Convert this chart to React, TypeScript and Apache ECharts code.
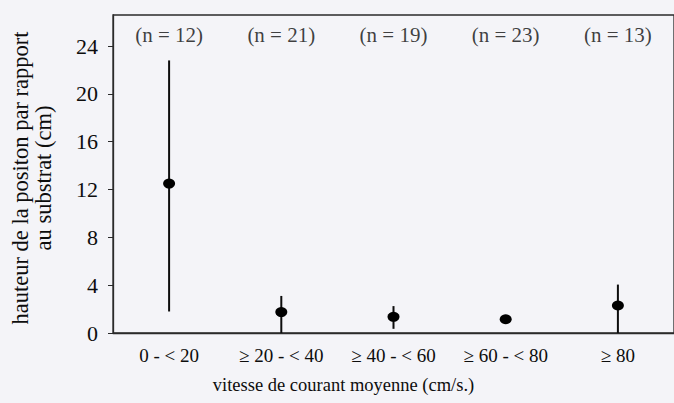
import React, { useEffect, useRef } from "react";
import * as echarts from "echarts";

const categories = ["0 - < 20", "≥ 20 - < 40", "≥ 40 - < 60", "≥ 60 - < 80", "≥ 80"];
const meanValues = [12.5, 1.75, 1.35, 1.15, 2.3];
const lowValues = [1.8, 0, 0.35, 1.15, 0];
const highValues = [22.8, 3.1, 2.25, 1.15, 4.05];
const sampleSizes = [12, 21, 19, 23, 13];
const yTicks = [0, 4, 8, 12, 16, 20, 24];
const nLabelLevel = 24.9;

const FONT = "Liberation Serif";
const INK = "#0d0d0d";

export default function App() {
  const ref = useRef<HTMLDivElement>(null);
  useEffect(() => {
    if (!ref.current) return;
    const chart = echarts.init(ref.current, null, { renderer: "svg" });
    chart.setOption({
      animation: false,
      backgroundColor: "#f4f4f8",
      textStyle: { fontFamily: FONT },
      grid: {
        left: 113,
        top: 15,
        bottom: 70,
        right: -15,
        show: true,
        borderColor: "#2a2a2a",
        borderWidth: 1.3,
      },
      xAxis: {
        type: "category",
        data: categories,
        boundaryGap: true,
        axisLine: { lineStyle: { color: "#2a2a2a", width: 1.3 } },
        axisTick: { alignWithLabel: true, length: 5, lineStyle: { color: "#2a2a2a" } },
        axisLabel: { color: INK, fontFamily: FONT, fontSize: 19, margin: 13 },
        name: "vitesse de courant moyenne (cm/s.)",
        nameLocation: "middle",
        nameGap: 42,
        nameTextStyle: { color: INK, fontFamily: FONT, fontSize: 18.5, padding: [0, 100, 0, 0] },
        splitLine: { show: false },
      },
      yAxis: {
        type: "value",
        min: 0,
        max: 26.6,
        axisLine: { show: true, lineStyle: { color: "#2a2a2a", width: 1.3 } },
        axisTick: { show: true, length: 5, customValues: yTicks, lineStyle: { color: "#2a2a2a" } },
        axisLabel: { color: INK, fontFamily: FONT, fontSize: 22, margin: 15, customValues: yTicks },
        splitLine: { show: false },
        name: "hauteur de la positon par rapport\nau substrat (cm)",
        nameLocation: "middle",
        nameGap: 58,
        nameRotate: 90,
        nameTextStyle: { color: INK, fontFamily: FONT, fontSize: 22.5, lineHeight: 23, padding: [0, 8, 0, 0] },
      },
      series: [
        {
          type: "custom",
          data: categories.map((_, i) => [i, lowValues[i], highValues[i]]),
          renderItem: (params: any, api: any) => {
            const lo = api.coord([api.value(0), api.value(1)]);
            const hi = api.coord([api.value(0), api.value(2)]);
            return {
              type: "line",
              shape: { x1: lo[0], y1: lo[1], x2: hi[0], y2: hi[1] },
              style: { stroke: INK, lineWidth: 2 },
            };
          },
          z: 2,
        },
        {
          type: "scatter",
          data: categories.map((_, i) => [i, meanValues[i]]),
          symbol: "circle",
          symbolSize: [12, 10],
          itemStyle: { color: "#000", opacity: 1 },
          z: 3,
        },
        {
          type: "scatter",
          data: categories.map((_, i) => [i, nLabelLevel]),
          symbolSize: 0,
          label: {
            show: true,
            position: "inside",
            formatter: (p: any) => `(n = ${sampleSizes[p.dataIndex]})`,
            color: INK,
            fontFamily: FONT,
            fontSize: 21,
          },
          z: 4,
        },
      ],
    });
    return () => chart.dispose();
  }, []);
  return (
    <div
      ref={ref}
      style={{ position: "fixed", left: 0, top: 0, width: 674, height: 403 }}
    />
  );
}
